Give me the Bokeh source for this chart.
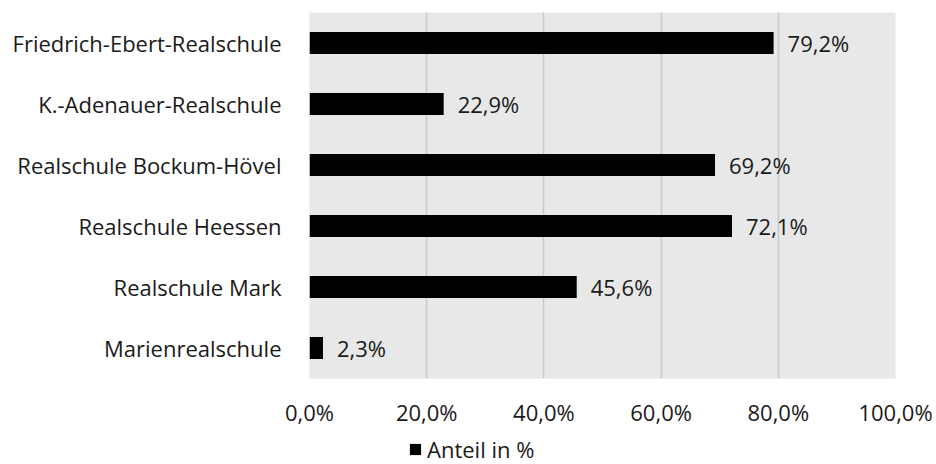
from bokeh.plotting import figure
from bokeh.layouts import column
from bokeh.models import ColumnDataSource, FixedTicker, Legend, LegendItem, Range1d, FactorRange
from bokeh.embed import file_html
from bokeh.resources import INLINE

schools = ["Friedrich-Ebert-Realschule", "K.-Adenauer-Realschule", "Realschule Bockum-Hövel",
           "Realschule Heessen", "Realschule Mark", "Marienrealschule"]
anteil = [79.2, 22.9, 69.2, 72.1, 45.6, 2.3]
value_labels = ["79,2%", "22,9%", "69,2%", "72,1%", "45,6%", "2,3%"]
tick_values = [0, 20, 40, 60, 80, 100]
tick_labels = ["0,0%", "20,0%", "40,0%", "60,0%", "80,0%", "100,0%"]
series_name = "Anteil in %"

FONT = "Open Sans"
FS = "22px"
source = ColumnDataSource(dict(school=schools, anteil=anteil, lbl=value_labels))

p = figure(width=936, height=434, output_backend="svg", toolbar_location=None,
           y_range=FactorRange(*list(reversed(schools)), range_padding=0),
           x_range=Range1d(0, 100),
           min_border_left=309, min_border_right=41, min_border_top=12, min_border_bottom=56)
p.outline_line_color = None
p.background_fill_color = "#e8e8e8"
p.border_fill_color = "white"

bars = p.hbar(y="school", right="anteil", left=0, height=0.36, source=source,
              fill_color="black", line_color=None)
p.text(x="anteil", y="school", text="lbl", source=source, x_offset=14,
       text_align="left", text_baseline="middle", text_font_size=FS,
       text_font={"value": FONT}, text_color="#1a1a1a")

p.xaxis.ticker = FixedTicker(ticks=tick_values)
p.xaxis.major_label_overrides = {v: l for v, l in zip(tick_values, tick_labels)}
p.xaxis.axis_line_color = None
p.xaxis.major_tick_line_color = None
p.xaxis.minor_tick_line_color = None
p.xaxis.major_label_standoff = 12
p.xaxis.major_label_text_font = FONT
p.xaxis.major_label_text_font_size = FS
p.xaxis.major_label_text_color = "#1a1a1a"

p.yaxis.axis_line_color = None
p.yaxis.major_tick_line_color = None
p.yaxis.minor_tick_line_color = None
p.yaxis.major_label_standoff = 22
p.yaxis.major_label_text_font = FONT
p.yaxis.major_label_text_font_size = FS
p.yaxis.major_label_text_color = "#1a1a1a"

p.xgrid.grid_line_color = "#c8c8c8"
p.xgrid.grid_line_width = 1.5
p.ygrid.grid_line_color = None

# Legend strip below the chart (same frame as main chart)
p2 = figure(width=936, height=30, output_backend="svg", toolbar_location=None,
            x_range=Range1d(0, 100), y_range=Range1d(0, 1),
            min_border_left=309, min_border_right=41, min_border_top=0, min_border_bottom=0)
p2.axis.visible = False
p2.grid.visible = False
p2.outline_line_color = None
p2.background_fill_color = "white"
# legend-only renderer with an empty (zero-width) bar
legend_src = ColumnDataSource(dict(y=[0.5], right=[0]))
dummy = p2.hbar(y="y", right="right", left=0, height=0.5, source=legend_src,
                fill_color="black", line_color=None)
legend = Legend(items=[LegendItem(label=series_name, renderers=[dummy])],
                location=(99, 0), orientation="horizontal",
                glyph_width=14, glyph_height=14, label_standoff=5,
                label_text_font=FONT, label_text_font_size=FS, label_text_color="#1a1a1a",
                background_fill_alpha=0, border_line_color=None, padding=0, margin=0)
p2.add_layout(legend, "center")

open("out.html", "w").write(file_html(column(p, p2, spacing=0), INLINE))
